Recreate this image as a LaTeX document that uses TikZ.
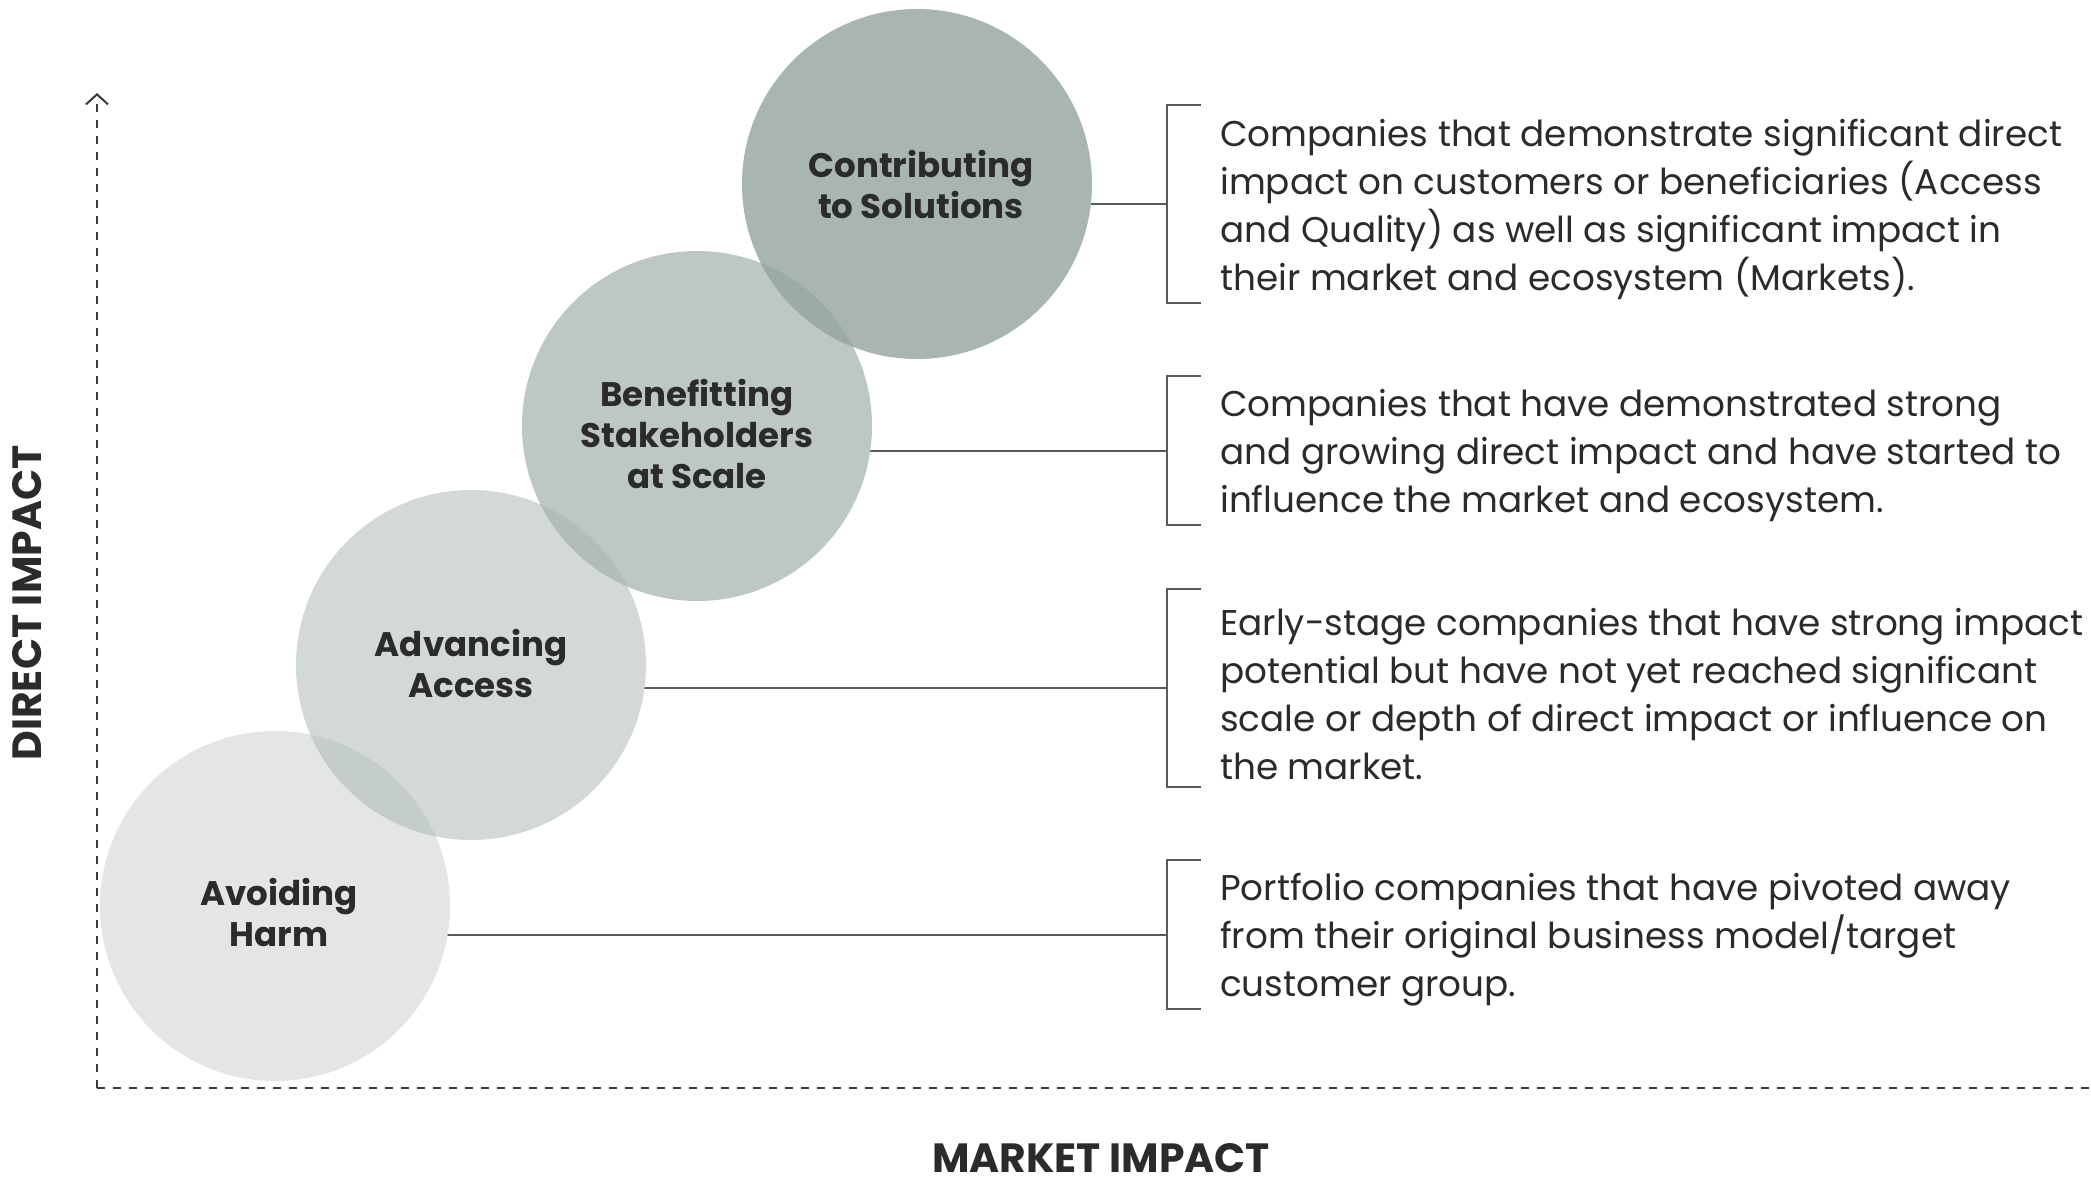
\documentclass[tikz,border=0pt]{standalone}
\usepackage{fontspec}
\setmainfont{Poppins}
\usetikzlibrary{arrows.meta}

\definecolor{ink}{HTML}{2B2B2B}
\definecolor{rule}{HTML}{5A5A5A}
\definecolor{axis}{HTML}{3A3A3A}
\definecolor{lvlA}{HTML}{E3E6E5}
\definecolor{lvlB}{HTML}{D3D9D8}
\definecolor{lvlC}{HTML}{BDC7C5}
\definecolor{lvlD}{HTML}{A8B5B2}
\definecolor{lapAB}{HTML}{C5CDCB}
\definecolor{lapBC}{HTML}{B2BDBB}
\definecolor{lapCD}{HTML}{9CABA8}

% font size chosen so that a sample line gets a given width
\newcommand\fitfont[3]{%
  \setbox0\hbox{\normalfont\fontsize{10pt}{12pt}\selectfont #3}%
  \pgfmathsetmacro#1{10*#2/\wd0}}
\AtBeginDocument{%
  \fitfont\descsize{842}{Companies that demonstrate significant direct}%
  \fitfont\lblsize{225}{\bfseries Contributing}%
  \fitfont\axsize{338}{\bfseries MARKET IMPACT}}

\begin{document}
\begin{tikzpicture}[x=1pt,y=-1pt,
  stage/.style={circle,inner sep=0pt,minimum size=350pt},
  stagelabel/.style={align=center,inner sep=0pt,text=ink,
    font=\fontsize{\lblsize pt}{41pt}\selectfont\bfseries},
  conn/.style={draw=rule,line width=1.6pt},
  bracket/.style={draw=rule,line width=1.6pt},
  desc/.style={anchor=west,align=left,inner sep=0pt,text=ink,
    font=\fontsize{\descsize pt}{48pt}\selectfont},
  axisline/.style={draw=axis,line width=2pt,dash pattern=on 8pt off 8pt},
  axislabel/.style={text=ink,inner sep=0pt,text depth=0pt,anchor=base,
    font=\fontsize{\axsize pt}{40pt}\selectfont\bfseries}]

\fill[white] (0,0) rectangle (2091,1181);
\useasboundingbox (0,0) rectangle (2091,1181);

% bracket mid points
\coordinate (b1) at (1167,204);
\coordinate (b2) at (1167,451);
\coordinate (b3) at (1167,688);
\coordinate (b4) at (1167,935);

% circle centres
\coordinate (p1) at (275,906);
\coordinate (p2) at (471,665);
\coordinate (p3) at (697,426);
\coordinate (p4) at (917,184);

% connectors (run under the circles)
\draw[conn] (b4) -- (b4 -| p1);
\draw[conn] (b3) -- (b3 -| p2);
\draw[conn] (b2) -- (b2 -| p3);
\draw[conn] (b1) -- (b1 -| p4);

% axes
\coordinate (origin) at (97,1088);
\coordinate (ytop) at (97,93);
\coordinate (xend) at (2091,1088);
\draw[axisline] (origin) -- (xend);
\draw[axisline,-{Straight Barb[length=10pt,width=22pt,line width=2pt]}] (origin) -- (ytop);

% stages
\node[stage,fill=lvlA] (c1) at (p1) {};
\node[stage,fill=lvlB] (c2) at (p2) {};
\begin{scope}
  \clip (p1) circle (175);
  \fill[lapAB] (p2) circle (175);
\end{scope}
\node[stage,fill=lvlC] (c3) at (p3) {};
\begin{scope}
  \clip (p2) circle (175);
  \fill[lapBC] (p3) circle (175);
\end{scope}
\node[stage,fill=lvlD] (c4) at (p4) {};
\begin{scope}
  \clip (p3) circle (175);
  \fill[lapCD] (p4) circle (175);
\end{scope}

\node[stagelabel] (l1) at ([shift={(4,6)}]c1.center) {Avoiding\\Harm};
\node[stagelabel] (l2) at ([shift={(0,-2)}]c2.center) {Advancing\\Access};
\node[stagelabel] (l3) at ([shift={(0,8)}]c3.center) {Benefitting\\Stakeholders\\at Scale};
\node[stagelabel] (l4) at ([shift={(4,0)}]c4.center) {Contributing\\to Solutions};

% brackets
\draw[bracket] (1201,105) -- (1167,105) -- (1167,303) -- (1201,303);
\draw[bracket] (1201,376) -- (1167,376) -- (1167,525) -- (1201,525);
\draw[bracket] (1201,589) -- (1167,589) -- (1167,787) -- (1201,787);
\draw[bracket] (1201,860) -- (1167,860) -- (1167,1009) -- (1201,1009);

% descriptions
\node[desc] (t1) at (1220,209) {Companies that demonstrate significant direct\\impact on customers or beneficiaries (Access\\and Quality) as well as significant impact in\\their market and ecosystem (Markets).};
\node[desc] (t2) at (1220,455) {Companies that have demonstrated strong\\and growing direct impact and have started to\\influence the market and ecosystem.};
\node[desc] (t3) at (1220,694) {Early-stage companies that have strong impact\\potential but have not yet reached significant\\scale or depth of direct impact or influence on\\the market.};
\node[desc] (t4) at (1220,940) {Portfolio companies that have pivoted away\\from their original business model/target\\customer group.};

% axis titles
\node[axislabel] (xl) at (1101,1172) {MARKET IMPACT};
\node[axislabel,rotate=90,anchor=center,text depth=] (yl) at (27,603) {DIRECT IMPACT};
\end{tikzpicture}
\end{document}
